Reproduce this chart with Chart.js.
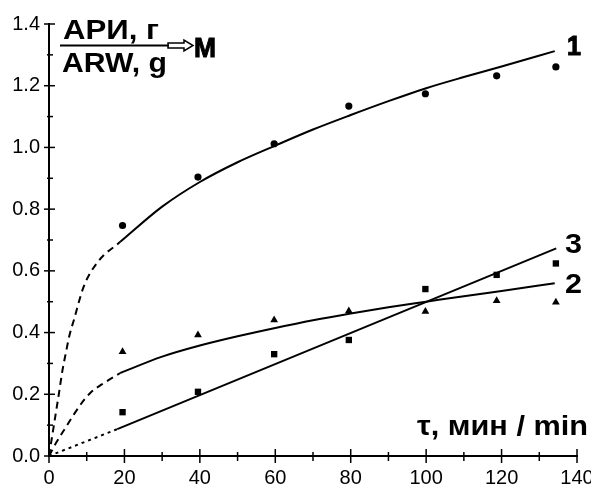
<!DOCTYPE html>
<html>
<head>
<meta charset="utf-8">
<script src="https://cdn.jsdelivr.net/npm/chart.js@4/dist/chart.umd.min.js"></script>
<style>
  html, body { margin: 0; padding: 0; background: #fff; }
  #wrap { width: 591px; height: 486px; position: relative; }
</style>
</head>
<body>
<div id="wrap"><canvas id="chart"></canvas></div>
<script>
// measured points (time, min)
const tau = [19.5, 39.5, 59.7, 79.5, 99.8, 118.7, 134.4];
const arw1 = [0.747, 0.904, 1.012, 1.134, 1.174, 1.232, 1.261];
const arw2 = [0.338, 0.392, 0.441, 0.470, 0.468, 0.503, 0.498];
const arw3 = [0.142, 0.208, 0.330, 0.376, 0.541, 0.587, 0.624];

// fitted curves
const fitX1dash = [0, 1.3, 2.6, 3.6, 4.4, 5.4, 6.6, 9.2, 13, 18.9];
const fitY1dash = [0, 0.10, 0.20, 0.28, 0.33, 0.39, 0.441, 0.549, 0.63, 0.694];
const fitX1 = [18.9, 30, 40, 50, 60, 70, 80, 90, 100, 110, 120, 134.1];
const fitY1 = [0.694, 0.808, 0.888, 0.952, 1.006, 1.058, 1.105, 1.150, 1.192, 1.228, 1.262, 1.312];

const fitX2dash = [0, 2, 4.4, 6.6, 9.2, 11, 14, 18.9];
const fitY2dash = [0, 0.045, 0.092, 0.135, 0.18, 0.205, 0.232, 0.269];
const fitX2 = [18.9, 30, 40, 50, 60, 70, 80, 90, 100, 110, 120, 134.1];
const fitY2 = [0.269, 0.322, 0.358, 0.388, 0.415, 0.44, 0.462, 0.482, 0.500, 0.518, 0.535, 0.560];

const fitX3dot = [0, 18.1];
const fitY3dot = [0, 0.087];
const fitX3 = [18.1, 134.5];
const fitY3 = [0.087, 0.673];

const xTicks = [0, 20, 40, 60, 80, 100, 120, 140];
const yTicks = [0, 0.2, 0.4, 0.6, 0.8, 1.0, 1.2, 1.4];

const FONT = '"Liberation Sans", Arial, sans-serif';

function pts(xs, ys) {
  return xs.map((x, i) => ({ x: x, y: ys[i] }));
}

function curve(xs, ys, dash) {
  return {
    type: 'line',
    data: pts(xs, ys),
    borderColor: '#000',
    borderWidth: 2,
    borderDash: dash,
    pointRadius: 0,
    fill: false,
    cubicInterpolationMode: 'monotone'
  };
}

function marks(ys, style, r) {
  return {
    type: 'scatter',
    data: pts(tau, ys),
    pointStyle: style,
    pointRadius: r,
    pointBackgroundColor: '#000',
    pointBorderWidth: 0,
    showLine: false
  };
}

// text fitted to a given width (the original lettering is wide)
function wideText(ctx, txt, x, y, w, size, heavy) {
  ctx.font = 'bold ' + size + 'px ' + FONT;
  const m = ctx.measureText(txt).width;
  ctx.save();
  ctx.translate(x, y);
  ctx.scale(w / m, 1);
  ctx.fillText(txt, 0, 0);
  if (heavy) {
    ctx.lineWidth = 1;
    ctx.strokeText(txt, 0, 0);
  }
  ctx.restore();
}

// tick marks crossing the axes + labels in the plot
const decor = {
  id: 'decor',
  afterDraw(chart) {
    const ctx = chart.ctx;
    const xs = chart.scales.x, ys = chart.scales.y;
    const x0 = xs.getPixelForValue(0), y0 = ys.getPixelForValue(0);
    ctx.save();
    ctx.strokeStyle = '#000';
    ctx.lineWidth = 1.5;
    for (let v = 0; v <= 140; v += 10) {
      const px = xs.getPixelForValue(v);
      const major = v % 20 === 0;
      ctx.beginPath();
      ctx.moveTo(px, y0 - (major ? 7 : 4));
      ctx.lineTo(px, y0 + (major ? 7 : 5));
      ctx.stroke();
    }
    for (let k = 0; k <= 14; k++) {
      const py = ys.getPixelForValue(k / 10);
      const major = k % 2 === 0;
      ctx.beginPath();
      ctx.moveTo(x0 - (major ? 5 : 2), py);
      ctx.lineTo(x0 + (major ? 6 : 4), py);
      ctx.stroke();
    }

    ctx.fillStyle = '#000';
    ctx.textBaseline = 'alphabetic';
    ctx.textAlign = 'left';
    // y title as a fraction
    wideText(ctx, 'АРИ, г', 63, 39, 96, 27);
    wideText(ctx, 'ARW, g', 62, 72, 105, 27);
    ctx.lineWidth = 2;
    ctx.beginPath();
    ctx.moveTo(60, 45.5);
    ctx.lineTo(169, 45.5);
    ctx.stroke();
    // hollow arrow
    ctx.lineWidth = 1.5;
    ctx.beginPath();
    ctx.moveTo(168, 43);
    ctx.lineTo(184, 43);
    ctx.lineTo(184, 40);
    ctx.lineTo(193, 45.5);
    ctx.lineTo(184, 51);
    ctx.lineTo(184, 48);
    ctx.lineTo(168, 48);
    ctx.closePath();
    ctx.stroke();
    wideText(ctx, 'M', 194, 57, 22, 28, true);

    // x title
    wideText(ctx, 'τ, мин / min', 417, 435, 171, 28);

    // curve numbers
    wideText(ctx, '1', 567, 55, 14, 28, true);
    wideText(ctx, '3', 565, 253, 17, 27);
    wideText(ctx, '2', 565, 293, 17, 27);
    ctx.restore();
  }
};

new Chart(document.getElementById('chart'), {
  data: {
    datasets: [
      curve(fitX1dash, fitY1dash, [7, 5]),
      curve(fitX1, fitY1, []),
      curve(fitX2dash, fitY2dash, [7, 5]),
      curve(fitX2, fitY2, []),
      curve(fitX3dot, fitY3dot, [3, 4]),
      curve(fitX3, fitY3, []),
      marks(arw1, 'circle', 3.6),
      marks(arw2, 'triangle', 4.5),
      marks(arw3, 'rect', 4.5)
    ]
  },
  options: {
    responsive: true,
    maintainAspectRatio: false,
    animation: false,
    layout: { padding: { left: 0, right: 14, top: 24, bottom: 0 } },
    plugins: { legend: { display: false }, tooltip: { enabled: false } },
    scales: {
      x: {
        type: 'linear',
        min: 0, max: 140,
        afterBuildTicks: s => { s.ticks = xTicks.map(v => ({ value: v })); },
        afterFit: s => { s.height = 30; s.paddingLeft = 0; s.paddingRight = 0; },
        grid: { display: false, drawTicks: false },
        border: { display: true, color: '#000', width: 2 },
        ticks: { color: '#000', font: { family: FONT, size: 20 }, padding: 10, maxRotation: 0 }
      },
      y: {
        type: 'linear',
        min: 0, max: 1.4,
        afterBuildTicks: s => { s.ticks = yTicks.map(v => ({ value: v })); },
        afterFit: s => { s.width = 49; },
        grid: { display: false, drawTicks: false },
        border: { display: true, color: '#000', width: 2 },
        ticks: { color: '#000', font: { family: FONT, size: 20 }, padding: 9,
                 callback: v => Number(v).toFixed(1) }
      }
    }
  },
  plugins: [decor]
});
</script>
</body>
</html>
